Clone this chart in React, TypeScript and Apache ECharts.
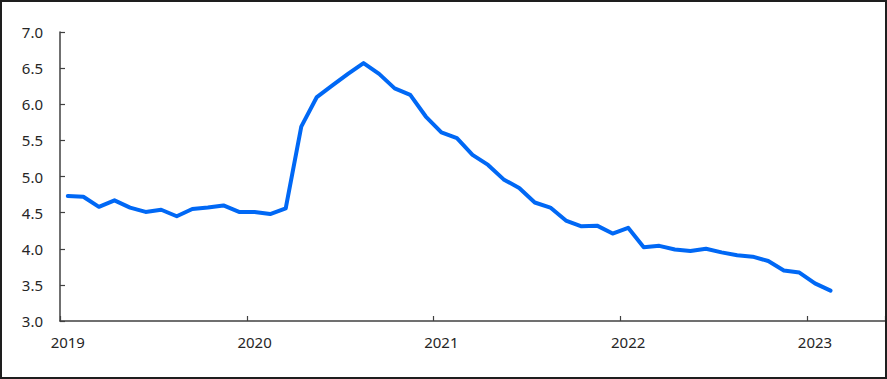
import React, { useEffect, useRef } from "react";
import * as echarts from "echarts";

const years = ["2019", "2020", "2021", "2022", "2023"];
const months = ["01", "02", "03", "04", "05", "06", "07", "08", "09", "10", "11", "12"];
// Jan 2019 .. May 2023 (53 monthly categories)
const categories: string[] = [];
years.forEach((y) => months.forEach((m) => categories.push(`${y}-${m}`)));
categories.length = 53;

const values = [
  4.73, 4.72, 4.58, 4.67, 4.57, 4.51, 4.54, 4.45, 4.55, 4.57, 4.6, 4.51,
  4.51, 4.48, 4.56, 5.69, 6.1, 6.26, 6.42, 6.57, 6.42, 6.22, 6.13, 5.83,
  5.61, 5.53, 5.3, 5.16, 4.96, 4.84, 4.64, 4.57, 4.39, 4.31, 4.32, 4.21,
  4.29, 4.02, 4.04, 3.99, 3.97, 4.0, 3.95, 3.91, 3.89, 3.83, 3.7, 3.67,
  3.52, 3.42,
];

const yTicks = { min: 3, max: 7, interval: 0.5 };

export default function App() {
  const ref = useRef<HTMLDivElement>(null);
  useEffect(() => {
    document.body.style.margin = "0";
    if (!ref.current) return;
    const chart = echarts.init(ref.current, null, { renderer: "svg" });
    const font = "'Noto Sans', sans-serif";
    chart.setOption({
      animation: false,
      backgroundColor: "#fff",
      grid: { left: 58, right: 0, top: 30, bottom: 56, containLabel: false },
      xAxis: {
        type: "category",
        data: categories,
        boundaryGap: true,
        axisLine: { show: true, lineStyle: { color: "#404040", width: 1.5 } },
        axisTick: {
          show: true,
          inside: true,
          length: 5,
          alignWithLabel: false,
          interval: (i: number) => i % 12 === 0,
          lineStyle: { color: "#404040", width: 1.2 },
        },
        axisLabel: {
          interval: (i: number) => i % 12 === 0,
          formatter: (v: string) => v.slice(0, 4),
          color: "#262626",
          fontFamily: font,
          fontSize: 15,
          margin: 13,
        },
        splitLine: { show: false },
      },
      yAxis: {
        type: "value",
        min: yTicks.min,
        max: yTicks.max,
        interval: yTicks.interval,
        axisLine: { show: true, lineStyle: { color: "#404040", width: 1.5 } },
        axisTick: { show: true, inside: true, length: 5, lineStyle: { color: "#404040", width: 1.2 } },
        axisLabel: {
          formatter: (v: number) => v.toFixed(1),
          color: "#262626",
          fontFamily: font,
          fontSize: 15,
          margin: 17,
        },
        splitLine: { show: false },
      },
      series: [
        {
          type: "line",
          data: values,
          symbol: "none",
          lineStyle: { color: "#0068F5", width: 4, join: "round", cap: "round" },
        },
      ],
    });
    return () => chart.dispose();
  }, []);
  return (
    <div
      style={{
        width: 887,
        height: 379,
        boxSizing: "border-box",
        border: "2px solid #1e1e1e",
        background: "#fff",
      }}
    >
      <div ref={ref} style={{ width: 883, height: 375 }} />
    </div>
  );
}
